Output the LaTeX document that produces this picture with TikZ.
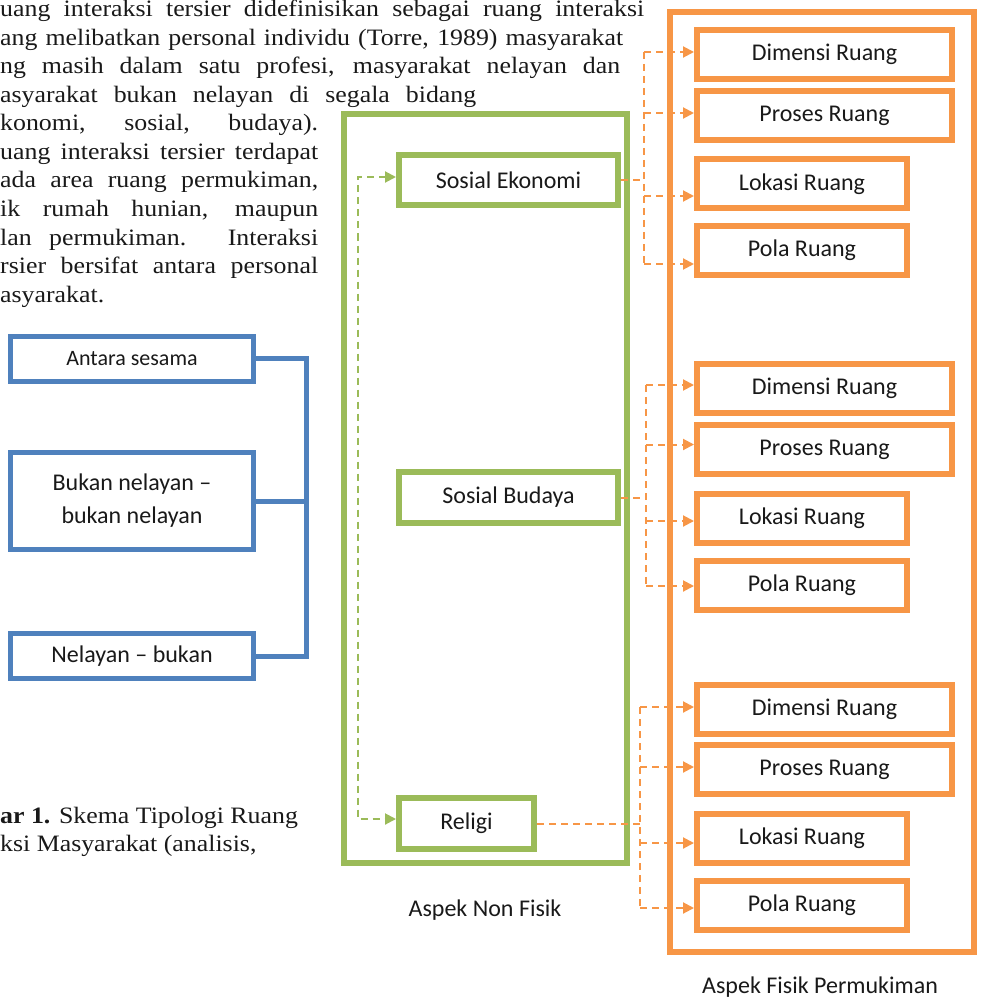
\documentclass[tikz,border=0pt]{standalone}
\usepackage{fontspec}
\setmainfont{Liberation Serif}[FakeStretch=1.1]
\newfontfamily\calibri{Carlito}
\usetikzlibrary{arrows.meta}
\definecolor{blueline}{RGB}{79,129,189}
\definecolor{greenline}{RGB}{155,187,89}
\definecolor{orangeline}{RGB}{247,150,70}

\begin{document}
\begin{tikzpicture}[x=1pt, y=-1pt,
>={Triangle[length=11pt, width=11pt]},
para/.style={anchor=base west, inner sep=0pt, text=black!90, font=\fontsize{23.5}{28}\selectfont},
lbl/.style={text=black!90, font=\calibri\fontsize{24}{33}\selectfont},
box/.style={lbl, rectangle, inner sep=2pt, align=center},
bluebox/.style={box, draw=blueline, line width=5pt, minimum width=243},
greenbox/.style={box, draw=greenline, line width=6pt, minimum height=51},
orangebox/.style={box, draw=orangeline, line width=6pt, minimum height=49},
widebox/.style={orangebox, minimum width=255},
narrowbox/.style={orangebox, minimum width=210},
frame/.style={rectangle, line width=6pt, inner sep=0pt},
odash/.style={draw=orangeline, line width=2pt, dash pattern=on 7pt off 5pt},
gdash/.style={draw=greenline, line width=2pt, dash pattern=on 7pt off 5pt}
]
\useasboundingbox (0,0) rectangle (980,1000);

\node[para] (p1) at (0,17) {\makebox[644pt][s]{uang interaksi tersier didefinisikan sebagai ruang interaksi}};
\node[para] (p2) at (0,45.5) {\makebox[623pt][s]{ang melibatkan personal individu (Torre, 1989) masyarakat}};
\node[para] (p3) at (0,74) {\makebox[620pt][s]{ng masih dalam satu profesi, masyarakat nelayan dan}};
\node[para] (p4) at (0,102.5) {\makebox[476pt][s]{asyarakat bukan nelayan di segala bidang}};
\node[para] (p5) at (0,131) {\makebox[318pt][s]{konomi, sosial, budaya).}};
\node[para] (p6) at (0,159.5) {\makebox[318pt][s]{uang interaksi tersier terdapat}};
\node[para] (p7) at (0,188) {\makebox[318pt][s]{ada area ruang permukiman,}};
\node[para] (p8) at (0,216.5) {\makebox[318pt][s]{ik rumah hunian, maupun}};
\node[para] (p9) at (0,245) {\makebox[318pt][s]{lan permukiman. Interaksi}};
\node[para] (p10) at (0,273.5) {\makebox[318pt][s]{rsier bersifat antara personal}};
\node[para] (p11) at (0,302) {asyarakat.};

\node[para] (cap1) at (0,823) {\textbf{ar 1.} Skema Tipologi Ruang};
\node[para] (cap2) at (0,851) {ksi Masyarakat (analisis,};

\node[bluebox, minimum height=44.5, font=\calibri\fontsize{22}{26}\selectfont] (antara) at (132,358.75) {Antara sesama};
\node[bluebox, minimum height=97] (bukan) at (132,501) {Bukan nelayan –\\bukan nelayan};
\node[bluebox, minimum height=45] (nelayan) at (132,656) {Nelayan – bukan};

\coordinate (brx) at (306,0);
\draw[blueline, line width=5pt] (antara.east) -- (antara.east -| brx) -- (nelayan.east -| brx) -- (nelayan.east);
\draw[blueline, line width=5pt] (bukan.east) -- (bukan.east -| brx);

\node[frame, draw=greenline, minimum width=283, minimum height=749] (nonfisik) at (485.5,488.5) {};
\node[lbl] (nonfisiklbl) at (485,910) {Aspek Non Fisik};
\node[frame, draw=orangeline, minimum width=304, minimum height=940] (fisik) at (822,482) {};
\node[lbl] (fisiklbl) at (820,987) {Aspek Fisik Permukiman};

\node[greenbox, minimum width=219, minimum height=50] (sosek) at (508.5,180) {Sosial Ekonomi};
\node[greenbox, minimum width=219] (sosbud) at (508.5,497.5) {Sosial Budaya};
\node[greenbox, minimum width=135] (religi) at (466.5,823.5) {Religi};

\foreach \g/\d/\p/\l/\o in {1/54.5/115.5/184/250.5, 2/388/449.5/518/585, 3/709/769.5/838.5/905} {
  \node[widebox] (dim\g) at (824.5,\d) {Dimensi Ruang};
  \node[widebox] (pro\g) at (824.5,\p) {Proses Ruang};
  \node[narrowbox] (lok\g) at (802,\l) {Lokasi Ruang};
  \node[narrowbox] (pol\g) at (802,\o) {Pola Ruang};
}

\coordinate (gbus) at (358,0);
\path ([yshift=3]sosek.west) coordinate (insosek);
\path ([yshift=4.5]religi.west) coordinate (inreligi);
\draw[gdash, <->] (insosek) -- (insosek -| gbus) -- (inreligi -| gbus) -- (inreligi);

\coordinate (bus1) at (644,0);
\draw[odash] (sosek.east) -- (sosek.east -| bus1);
\foreach \b/\s in {dim1/2.5, pro1/2.5, lok1/-12, pol1/-13.5}
  \path ([yshift=\s]\b.west) coordinate (in\b);
\draw[odash] (indim1 -| bus1) -- (inpol1 -| bus1);
\foreach \b in {dim1, pro1, lok1, pol1}
  \draw[odash, ->] (in\b -| bus1) -- (in\b);

\coordinate (bus2) at (646,0);
\draw[odash] (sosbud.east) -- (sosbud.east -| bus2);
\foreach \b/\s in {dim2/3, pro2/5, lok2/-3, pol2/-1}
  \path ([yshift=\s]\b.west) coordinate (in\b);
\draw[odash] (indim2 -| bus2) -- (inpol2 -| bus2);
\foreach \b in {dim2, pro2, lok2, pol2}
  \draw[odash, ->] (in\b -| bus2) -- (in\b);

\coordinate (bus3) at (640,0);
\draw[odash] (religi.east) -- (religi.east -| bus3);
\foreach \b/\s in {dim3/2, pro3/2.5, lok3/-4.5, pol3/-3}
  \path ([yshift=\s]\b.west) coordinate (in\b);
\draw[odash] (indim3 -| bus3) -- (inpol3 -| bus3);
\foreach \b in {dim3, pro3, lok3, pol3}
  \draw[odash, ->] (in\b -| bus3) -- (in\b);

\end{tikzpicture}
\end{document}
